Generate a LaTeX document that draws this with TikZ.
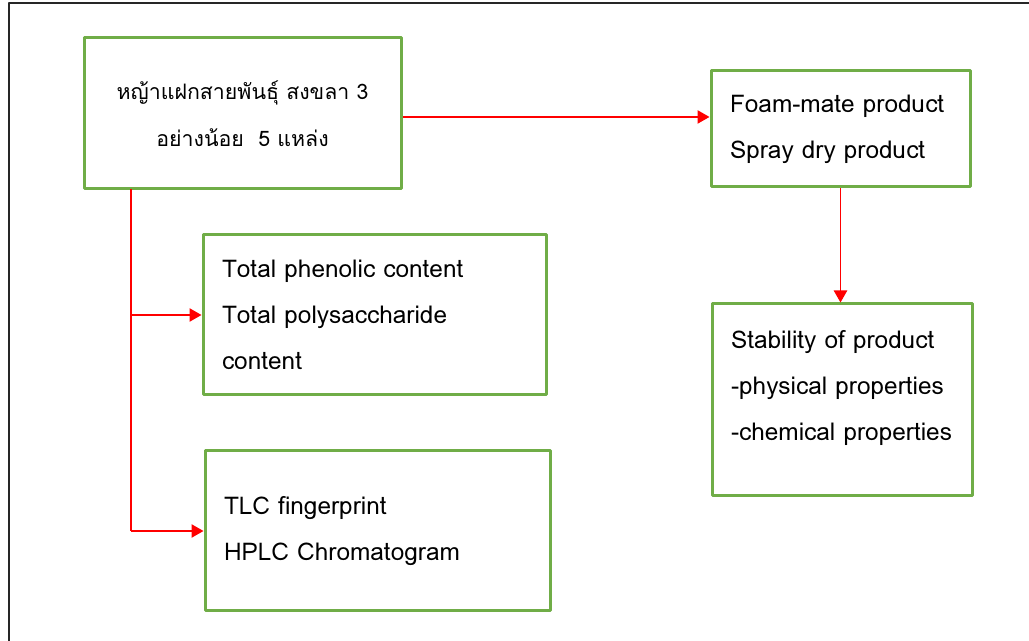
\documentclass[tikz,border=0pt]{standalone}
\usepackage{fontspec}
\setmainfont[Script=Thai]{Loma}
\usetikzlibrary{arrows.meta, positioning}
\definecolor{boxgreen}{RGB}{112,173,71}
\tikzset{
  box/.style={draw=boxgreen, line width=2.25pt, inner xsep=14.25pt, inner ysep=0pt,
    align=left, font=\fontsize{18.3pt}{34.5pt}\selectfont},
  link/.style={draw=red, line width=1pt, -{Triangle[length=9pt, width=10pt]}}
}
\begin{document}
\begin{tikzpicture}[x=0.75pt, y=-0.75pt, line join=round]
  \useasboundingbox (0,0) rectangle (1029,641);
  \draw[line width=2pt, black!85] (9,641) -- (9,3) -- (1029,3);   % page frame
  \node[box, align=center, font=\fontsize{16pt}{35pt}\selectfont,
    minimum width=237.75pt, minimum height=113.25pt] (grass) at (242.5,113.5)
    {หญ้าแฝกสายพันธุ์ สงขลา 3\\อย่างน้อย~~5 แหล่ง};
  \node[box, text width=165.75pt, minimum width=194.25pt, minimum height=87pt] (product) at (840.5,129)
    {Foam-mate product\\Spray dry product};
  \node[box, text width=228.75pt, minimum width=257.25pt, minimum height=120pt] (content) at (374.5,315)
    {Total phenolic content\\Total polysaccharide\\content};
  \node[box, text width=230.25pt, minimum width=258.75pt, minimum height=120pt] (finger) at (377.5,531)
    {TLC fingerprint\\HPLC Chromatogram};
  \node[box, text width=166.5pt, minimum width=195pt, minimum height=144pt] (stable) at (842,400)
    {Stability of product\\-physical properties\\-chemical properties\\[-12pt]\mbox{}};
  \coordinate (trunk) at (131,189);
  \draw[link] ([yshift=-2.6pt]grass.east) -- ([yshift=-2.6pt]grass.east -| product.west);
  \draw[link] (product.south) -- (product.south |- stable.north);
  \draw[draw=red, line width=1pt] (trunk) -- (trunk |- finger.west);
  \draw[link] (trunk |- content.west) -- (content.west);
  \draw[link] (trunk |- finger.west) -- (finger.west);
\end{tikzpicture}
\end{document}
